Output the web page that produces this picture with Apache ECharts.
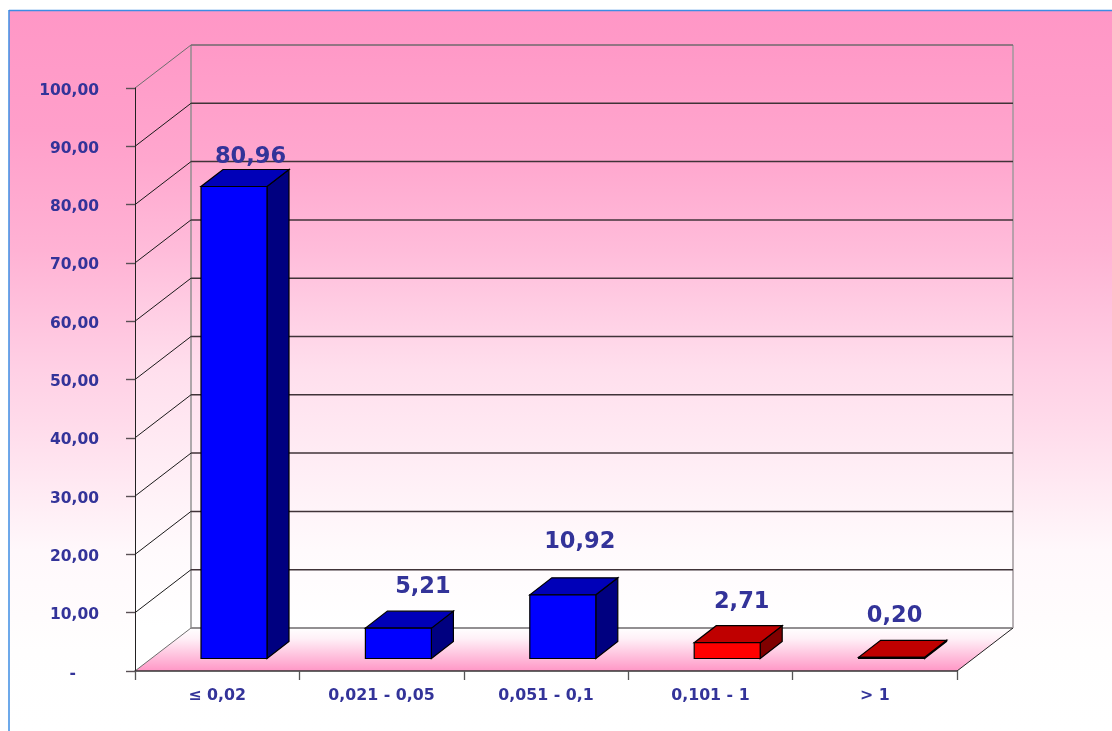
<!DOCTYPE html>
<html>
<head>
<meta charset="utf-8">
<style>html,body{margin:0;padding:0;background:#fff}#c{width:1112px;height:731px}</style>
<script src="https://cdn.jsdelivr.net/npm/echarts@6/dist/echarts.min.js"></script>
</head>
<body>
<div id="c"></div>
<script>
const categories = ['≤ 0,02', '0,021 - 0,05', '0,051 - 0,1', '0,101 - 1', '> 1'];
const values = [80.96, 5.21, 10.92, 2.71, 0.20];
const gridValues = [0, 10, 20, 30, 40, 50, 60, 70, 80, 90, 100];
const barGroup = [0, 0, 0, 1, 1];

// styling / layout constants (not data)
const WALL_DX = 56, WALL_DY = 43;        // depth of the plot box
const DEPTH_DX = 22, DEPTH_DY = 17;      // depth of each column
const BAR_DX = 16.8, BAR_DY = 12.5;      // column position inside the box
const BAR_W = 66;
const TEXT = '#333399';
const FONT = 'DejaVu Sans';
const palette = [
  {face: '#0000FF', top: '#0000B8', side: '#000080'},
  {face: '#FF0000', top: '#BF0000', side: '#800000'}
];
const labelShift = [[16.5, -12], [24.5, -24], [17, -36], [14.5, -24], [3, -24]];

const wallFill = {type: 'linear', global: true, x: 0, y: 45, x2: 0, y2: 628, colorStops: [
  {offset: 0, color: '#FF99C7'}, {offset: 0.197, color: '#FFA7CE'}, {offset: 0.352, color: '#FFBCDA'},
  {offset: 0.557, color: '#FFDFED'}, {offset: 0.66, color: '#FFE8F2'}, {offset: 0.866, color: '#FFFAFC'},
  {offset: 1, color: '#FFFFFF'}
]};
const pageFill = {type: 'linear', x: 0, y: 0, x2: 0, y2: 1, colorStops: [
  {offset: 0, color: '#FF97C6'}, {offset: 0.165, color: '#FF9FCA'}, {offset: 0.332, color: '#FFB2D4'},
  {offset: 0.499, color: '#FFD0E5'}, {offset: 0.568, color: '#FFDAEA'}, {offset: 0.749, color: '#FFF8FB'},
  {offset: 0.888, color: '#FFFEFE'}, {offset: 1, color: '#FFFFFF'}
]};
const floorFill = {type: 'linear', x: 0, y: 0, x2: 0, y2: 1, colorStops: [
  {offset: 0, color: '#FFFFFF'}, {offset: 0.25, color: '#FFF0F7'}, {offset: 1, color: '#FF97C6'}
]};

const line = (x1, y1, x2, y2, stroke, w) => ({type: 'line', silent: true,
  shape: {x1, y1, x2, y2}, style: {stroke, lineWidth: w || 1}});
const poly = (points, fill, stroke) => ({type: 'polygon', silent: true,
  shape: {points}, style: {fill, stroke: stroke || 'none', lineWidth: stroke ? 1.2 : 0}});

function renderBox(params, api) {
  const c = params.coordSys;
  const L = c.x, R = c.x + c.width, T = c.y, B = c.y + c.height;
  return {type: 'group', children: [
    poly([[L + WALL_DX, T - WALL_DY], [R + WALL_DX, T - WALL_DY], [R + WALL_DX, B - WALL_DY], [L + WALL_DX, B - WALL_DY]], wallFill),
    poly([[L, T], [L + WALL_DX, T - WALL_DY], [L + WALL_DX, B - WALL_DY], [L, B]], wallFill),
    poly([[L, B], [R, B], [R + WALL_DX, B - WALL_DY], [L + WALL_DX, B - WALL_DY]], floorFill)
  ]};
}

function renderGrid(params, api) {
  const c = params.coordSys;
  const L = c.x, R = c.x + c.width;
  const v = api.value(0);
  const y = api.coord([0, v])[1];
  const wallCol = (v === 0 || v === 100) ? '#6E6A6C' : '#403338';
  const diagCol = (v === 0 || v === 100) ? '#6E6E6E' : '#1A1A1A';
  return {type: 'group', children: [
    line(L, y, L + WALL_DX, y - WALL_DY, diagCol),
    line(L + WALL_DX, y - WALL_DY, R + WALL_DX, y - WALL_DY, wallCol, 1.5)
  ].concat(v === 0 ? [
    line(R, y, R + WALL_DX, y - WALL_DY, '#222222'),
    line(L + WALL_DX, y - WALL_DY, L + WALL_DX, c.y - WALL_DY, '#8C8C8C', 1.4),
    line(R + WALL_DX, y - WALL_DY, R + WALL_DX, c.y - WALL_DY, '#A0989C', 1.5)
  ] : [])};
}

function renderBar(params, api) {
  const i = api.value(0), v = api.value(1);
  const p0 = api.coord([i, 0]), p1 = api.coord([i, v]);
  const cx = p0[0] + BAR_DX;
  const x0 = cx - BAR_W / 2, x1 = cx + BAR_W / 2;
  const yb = p0[1] - BAR_DY, yt = p1[1] - BAR_DY;
  const pal = palette[barGroup[i]];
  const dx = DEPTH_DX, dy = DEPTH_DY;
  const s = labelShift[i];
  return {type: 'group', children: [
    poly([[x1, yb], [x1 + dx, yb - dy], [x1 + dx, yt - dy], [x1, yt]], pal.side, '#000000'),
    poly([[x0, yt], [x1, yt], [x1 + dx, yt - dy], [x0 + dx, yt - dy]], pal.top, '#000000'),
    poly([[x0, yb], [x1, yb], [x1, yt], [x0, yt]], pal.face, '#000000'),
    {type: 'text', silent: true, style: {
      x: cx + s[0], y: yt - dy + s[1],
      text: v.toFixed(2).replace('.', ','),
      fill: TEXT, font: 'bold 22.5px "' + FONT + '"', align: 'center', verticalAlign: 'middle'
    }}
  ]};
}

const yLabelStyle = {color: TEXT, fontFamily: FONT, fontWeight: 'bold', fontSize: 15.5};

const chart = echarts.init(document.getElementById('c'), null, {renderer: 'canvas'});
chart.setOption({
  animation: false,
  backgroundColor: '#FFFFFF',
  graphic: {elements: [
    {type: 'rect', z: -5, silent: true, shape: {x: 9, y: 11, width: 1103, height: 720}, style: {fill: pageFill}},
    {type: 'line', z: -4, silent: true, shape: {x1: 9, y1: 10.5, x2: 1112, y2: 10.5}, style: {stroke: '#3D8DE3', lineWidth: 1.5}},
    {type: 'line', z: -4, silent: true, shape: {x1: 9, y1: 10, x2: 9, y2: 731}, style: {stroke: '#3D8DE3', lineWidth: 1.5}}
  ]},
  grid: {left: 135, top: 88, width: 822, height: 583, containLabel: false},
  xAxis: {
    type: 'category', data: categories, z: 4,
    axisLine: {show: true, lineStyle: {color: '#333333', width: 1.5}},
    axisTick: {show: true, length: 9, alignWithLabel: false, lineStyle: {color: '#555555', width: 1.3}},
    axisLabel: {color: TEXT, fontFamily: FONT, fontWeight: 'bold', fontSize: 15.8, margin: 17, interval: 0},
    splitLine: {show: false}
  },
  yAxis: {
    type: 'value', min: 0, max: 100, interval: 10, z: 4,
    axisLine: {show: true, lineStyle: {color: '#222222', width: 1}},
    axisTick: {show: true, length: 9, lineStyle: {color: '#5A5055', width: 1.4}},
    axisLabel: {margin: 36,
      formatter: v => v === 0 ? '{b|-}' : '{a|' + v.toFixed(2).replace('.', ',') + '}',
      rich: {
        a: Object.assign({padding: [5, 0, 0, 0]}, yLabelStyle),
        b: Object.assign({padding: [5, 23, 0, 0]}, yLabelStyle)
      }},
    splitLine: {show: false}
  },
  series: [
    {type: 'custom', z: 1, clip: false, coordinateSystem: 'cartesian2d', renderItem: renderBox, data: [[0, 0]], silent: true},
    {type: 'custom', z: 2, clip: false, coordinateSystem: 'cartesian2d', renderItem: renderGrid,
      encode: {y: 0}, data: gridValues.map(v => [v]), silent: true},
    {type: 'custom', z: 5, clip: false, coordinateSystem: 'cartesian2d', renderItem: renderBar,
      encode: {x: 0, y: 1}, data: values.map((v, i) => [i, v]), silent: true}
  ]
});
</script>
</body>
</html>
